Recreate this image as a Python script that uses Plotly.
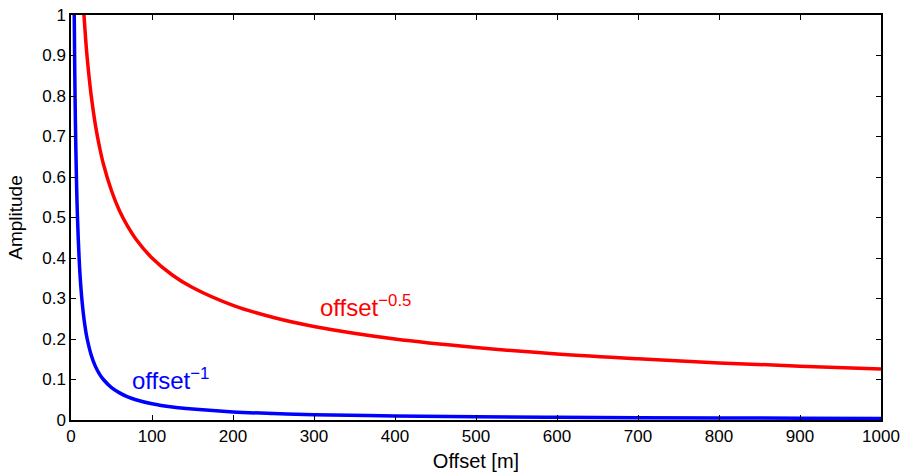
import plotly.graph_objects as go

# Values
offsets = [3, 3.5, 4, 4.5, 5, 6, 7, 8, 10, 12, 14, 16, 18, 20, 25, 30, 35, 40, 50, 60, 70, 80, 100, 125, 150, 200, 250, 300, 400, 500, 600, 700, 800, 900, 1000]
amp_half = [2.31, 2.14, 2.0, 1.886, 1.789, 1.633, 1.512, 1.414, 1.265, 1.155, 1.069, 1.0, 0.943, 0.894, 0.8, 0.730, 0.676, 0.632, 0.566, 0.516, 0.478, 0.447, 0.4, 0.358, 0.327, 0.283, 0.253, 0.231, 0.2, 0.179, 0.163, 0.151, 0.141, 0.133, 0.126]
amp_one = [1.333, 1.143, 1.0, 0.889, 0.8, 0.667, 0.571, 0.5, 0.4, 0.333, 0.286, 0.25, 0.222, 0.2, 0.16, 0.133, 0.114, 0.1, 0.08, 0.067, 0.057, 0.05, 0.04, 0.032, 0.027, 0.02, 0.016, 0.013, 0.01, 0.008, 0.0067, 0.0057, 0.005, 0.0044, 0.004]

x_ticks = [0, 100, 200, 300, 400, 500, 600, 700, 800, 900, 1000]
y_ticks = [0, 0.1, 0.2, 0.3, 0.4, 0.5, 0.6, 0.7, 0.8, 0.9, 1]
y_tick_text = ["0", "0.1", "0.2", "0.3", "0.4", "0.5", "0.6", "0.7", "0.8", "0.9", "1"]

FONT = "Liberation Sans, Arial, Helvetica, sans-serif"

fig = go.Figure()
fig.add_trace(go.Scatter(x=offsets, y=amp_half, mode="lines",
                         line=dict(color="#ff0000", width=3.5, shape="spline"),
                         showlegend=False))
fig.add_trace(go.Scatter(x=offsets, y=amp_one, mode="lines",
                         line=dict(color="#0000ff", width=3.5, shape="spline"),
                         showlegend=False))

fig.add_annotation(x=305, y=0.281, text="offset<sup>−0.5</sup>", showarrow=False,
                   xanchor="left", yanchor="middle",
                   font=dict(family=FONT, size=24, color="#ff0000"))
fig.add_annotation(x=73, y=0.101, text="offset<sup>−1</sup>", showarrow=False,
                   xanchor="left", yanchor="middle",
                   font=dict(family=FONT, size=24, color="#0000ff"))

axis_common = dict(showline=True, linecolor="black", linewidth=1.5, mirror="ticks",
                   ticks="inside", ticklen=5, tickcolor="black", showgrid=False,
                   zeroline=False, automargin=False,
                   tickfont=dict(family=FONT, size=17, color="black"))

fig.update_xaxes(range=[0, 1000], tickvals=x_ticks,
                 title=dict(text="Offset [m]", font=dict(family=FONT, size=20, color="black")),
                 **axis_common)
fig.update_yaxes(range=[0, 1], tickvals=y_ticks, ticktext=y_tick_text,
                 title=dict(text="Amplitude", font=dict(family=FONT, size=19, color="black")),
                 **axis_common)

fig.update_layout(width=902, height=472, autosize=False,
                  margin=dict(l=71, r=21, t=15, b=52, pad=0, autoexpand=False),
                  plot_bgcolor="white", paper_bgcolor="white",
                  font=dict(family=FONT, color="black"))

fig.write_html("out.html", config={"displayModeBar": False, "responsive": False},
               post_script="document.body.style.margin='0';document.body.style.padding='0';")
